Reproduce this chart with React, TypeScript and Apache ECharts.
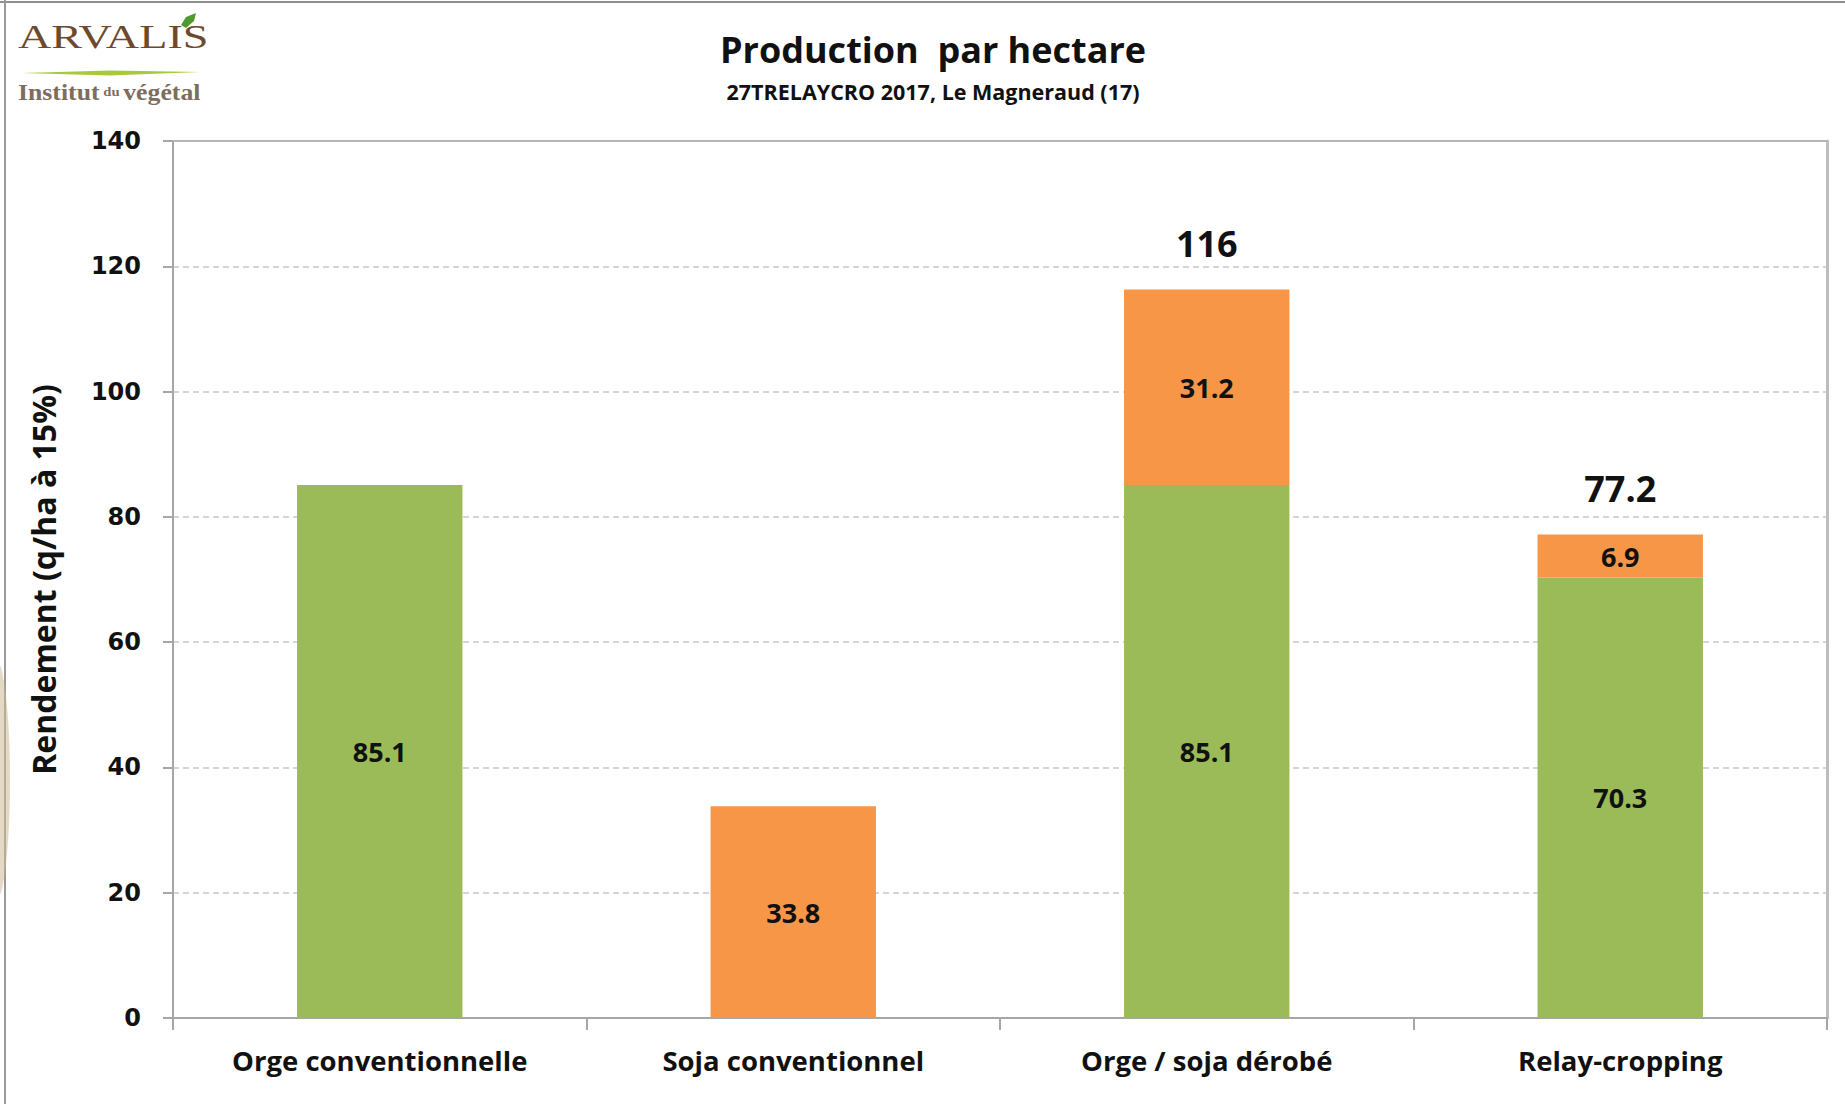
import React, { useEffect, useRef } from "react";
import * as echarts from "echarts";

const categories = ["Orge conventionnelle", "Soja conventionnel", "Orge / soja dérobé", "Relay-cropping"];
const orgeValues: (number | null)[] = [85.1, null, 85.1, 70.3];
const sojaValues: (number | null)[] = [null, 33.8, 31.2, 6.9];
const totalLabels = ["", "", "116", "77.2"];
const yMin = 0;
const yMax = 140;
const yInterval = 20;

const GREEN = "#9BBB59";
const ORANGE = "#F79646";
const FONT = "'Open Sans', 'Noto Sans', sans-serif";
const SERIF = "'Liberation Serif', 'DejaVu Serif', serif";

export default function App() {
  const ref = useRef<HTMLDivElement>(null);
  useEffect(() => {
    if (!ref.current) return;
    const chart = echarts.init(ref.current, undefined, { renderer: "svg" });
    const totals = categories.map((_, i) =>
      orgeValues[i] != null && sojaValues[i] != null ? (orgeValues[i] as number) + (sojaValues[i] as number) : null
    );
    const insideLabel = {
      show: true,
      position: "inside",
      fontFamily: FONT,
      fontWeight: "bold",
      fontSize: 27,
      color: "#111",
      formatter: (p: any) => String(p.value),
    };
    chart.setOption({
      animation: false,
      backgroundColor: "#ffffff",
      grid: { left: 173, right: 18, top: 141, bottom: 86, containLabel: false },
      xAxis: [
        {
          type: "category",
          data: categories,
          position: "bottom",
          axisLine: { show: true, onZero: false, lineStyle: { color: "#a6a6a6", width: 2 } },
          axisTick: { show: true, length: 12, lineStyle: { color: "#a6a6a6", width: 2 } },
          axisLabel: { margin: 28, fontFamily: FONT, fontWeight: "bold", fontSize: 27.5, color: "#111" },
          splitLine: { show: false },
        },
        {
          type: "category",
          data: categories,
          position: "top",
          axisLine: { show: true, onZero: false, lineStyle: { color: "#b5b5b5", width: 2 } },
          axisTick: { show: false },
          axisLabel: { show: false },
        },
      ],
      yAxis: [
        {
          type: "value",
          min: yMin,
          max: yMax,
          interval: yInterval,
          name: "Rendement (q/ha à 15%)",
          nameLocation: "middle",
          nameGap: 114,
          nameTextStyle: { fontFamily: FONT, fontWeight: "bold", fontSize: 32, color: "#111" },
          axisLine: { show: true, lineStyle: { color: "#a6a6a6", width: 2 } },
          axisTick: { show: true, length: 10, lineStyle: { color: "#a6a6a6", width: 2 } },
          axisLabel: { margin: 32, fontFamily: "'DejaVu Sans', sans-serif", fontWeight: "bold", fontSize: 24, color: "#111" },
          splitLine: { show: true, lineStyle: { color: "#c8c8c8", type: [6, 4], width: 1.5 } },
        },
        {
          type: "value",
          min: yMin,
          max: yMax,
          interval: yInterval,
          position: "right",
          axisLine: { show: true, onZero: false, lineStyle: { color: "#bdbdbd", width: 3 } },
          axisTick: { show: false },
          axisLabel: { show: false },
          splitLine: { show: false },
        },
      ],
      series: [
        {
          name: "Orge",
          type: "bar",
          stack: "prod",
          data: orgeValues,
          barWidth: "40%",
          barGap: "-100%",
          itemStyle: { color: GREEN },
          label: insideLabel,
        },
        {
          name: "Soja",
          type: "bar",
          stack: "prod",
          data: sojaValues,
          barWidth: "40%",
          barGap: "-100%",
          itemStyle: { color: ORANGE },
          label: insideLabel,
        },
        {
          name: "Total",
          type: "bar",
          data: totals,
          barWidth: "40%",
          barGap: "-100%",
          silent: true,
          itemStyle: { color: "rgba(0,0,0,0)" },
          label: {
            show: true,
            position: "top",
            distance: 28,
            fontFamily: FONT,
            fontWeight: "bold",
            fontSize: 36,
            color: "#111",
            formatter: (p: any) => totalLabels[p.dataIndex],
          },
        },
      ],
      graphic: [
        { type: "rect", shape: { x: 0, y: 1, width: 1845, height: 2 }, style: { fill: "#8f8f8f" } },
        { type: "rect", shape: { x: 4, y: 0, width: 2, height: 1104 }, style: { fill: "#9a9a9a" } },
        {
          type: "ellipse",
          shape: { cx: -4, cy: 780, rx: 14, ry: 120 },
          style: { fill: "rgba(205,185,150,0.55)" },
        },
        {
          type: "text",
          x: 933,
          y: 49,
          style: {
            text: "Production  par hectare",
            fontFamily: FONT,
            fontWeight: "bold",
            fontSize: 36,
            fill: "#111",
            align: "center",
            verticalAlign: "middle",
          },
        },
        {
          type: "text",
          x: 933,
          y: 91,
          style: {
            text: "27TRELAYCRO 2017, Le Magneraud (17)",
            fontFamily: FONT,
            fontWeight: "bold",
            fontSize: 21.5,
            fill: "#111",
            align: "center",
            verticalAlign: "middle",
          },
        },
        {
          type: "text",
          x: 18,
          y: 53,
          scaleX: 1.4,
          style: {
            text: "ARVALIS",
            fontFamily: SERIF,
            fontSize: 33,
            fill: "#6e4a2c",
            align: "left",
            verticalAlign: "bottom",
          },
        },
        {
          type: "polygon",
          shape: { points: [[22, 73], [110, 70.5], [200, 72], [110, 75.5]] },
          style: { fill: "#a9c93c" },
        },
        {
          type: "polygon",
          shape: { points: [[181, 25], [186, 17], [196, 13], [194, 21], [186, 28]] },
          style: { fill: "#4d9a2f" },
        },
        {
          type: "text",
          x: 18,
          y: 92,
          scaleX: 1.12,
          style: {
            text: "{a|Institut} {b|du} {a|végétal}",
            verticalAlign: "middle",
            align: "left",
            rich: {
              a: { fontFamily: SERIF, fontSize: 23, fontWeight: "bold", fill: "#7d6d5e", color: "#7d6d5e" },
              b: { fontFamily: SERIF, fontSize: 13, fontWeight: "bold", fill: "#7d6d5e", color: "#7d6d5e" },
            },
          },
        },
      ],
    });
    return () => chart.dispose();
  }, []);
  return (
    <div
      ref={ref}
      style={{ position: "fixed", left: 0, top: 0, width: 1845, height: 1104, background: "#fff" }}
    />
  );
}
